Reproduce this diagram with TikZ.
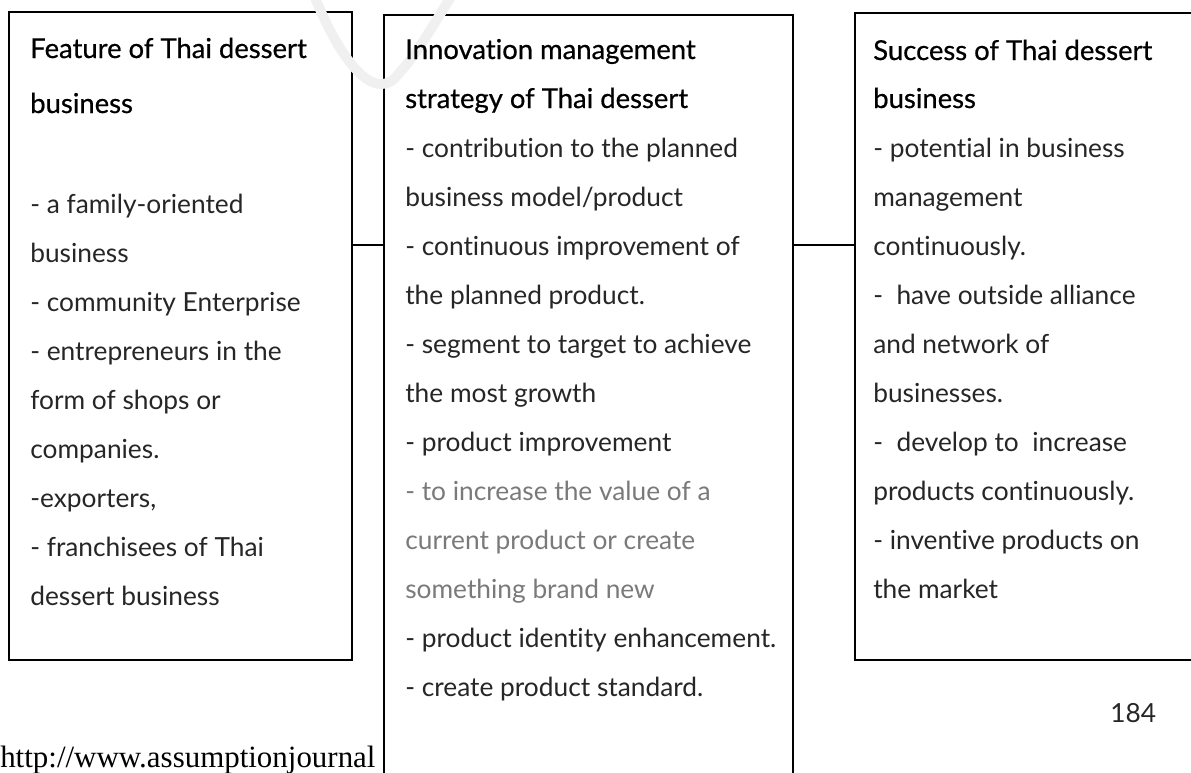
\documentclass[tikz,border=0pt]{standalone}
\usepackage{xcolor}
\usepackage{fontspec}
\setmainfont[Ligatures={NoCommon,NoContextual}]{Lato}
\newfontfamily\headfont[FakeBold=0.6,Ligatures={NoCommon,NoContextual}]{Lato}
\newfontfamily\urlfont{Liberation Serif}
\usetikzlibrary{fit}
\definecolor{bodytext}{HTML}{262626}
\definecolor{softtext}{HTML}{7A7A7A}
\definecolor{wmark}{HTML}{F0F0F0}

\begin{document}
\begin{tikzpicture}[x=0.025cm,y=-0.025cm,
    box/.style={draw, line width=1.4pt, fill=white, inner sep=0pt},
    body/.style={anchor=base west, inner sep=0pt, text=bodytext, font=\fontsize{18.7}{22}\selectfont},
    head/.style={anchor=base west, inner sep=0pt, text=black, font=\headfont\fontsize{19.5}{22}\selectfont}]
\useasboundingbox (0,0) rectangle (1191,772);
\clip (0,0) rectangle (1191,772);
\fill[white] (0,0) rectangle (1191,772);
\node[anchor=base west, inner sep=0pt, font=\urlfont\fontsize{22}{24}\selectfont] (url) at (0,767) {http://www.assumptionjournal};
\node[box, fit={(9,12) (352,660)}] (feat) {};
\node[box, fit={(384,15) (793,800)}] (innov) {};
\node[box, fit={(855,13) (1220,660)}] (succ) {};
\draw[wmark, line width=7pt] (314,-5) .. controls (340,60) and (372,100) .. (395,78) .. controls (415,55) .. (452,-5);
\coordinate (link) at (0,245);
\draw[line width=1pt] (feat.east |- link) -- (innov.west |- link);
\draw[line width=1pt] (innov.east |- link) -- (succ.west |- link);
\node[head] (feath1) at (30,58) {Feature of Thai dessert};
\node[head] (feath2) at (30,113) {business};
\foreach \t [count=\i] in {{- a family-oriented}, business, {- community Enterprise}, {- entrepreneurs in the}, {form of shops or}, companies., {-exporters,}, {- franchisees of Thai}, {dessert business}}
    \node[body] (feat\i) at (30,{164+49*\i}) {\t};
\node[head] (innovh1) at (405,59) {Innovation management};
\node[head] (innovh2) at (405,108) {strategy of Thai dessert};
\foreach \t [count=\i] in {{- contribution to the planned}, {business model/product}, {- continuous improvement of}, {the planned product.}, {- segment to target to achieve}, {the most growth}, {- product improvement}, {\textcolor{softtext}{- to increase the value of a}}, {\textcolor{softtext}{current product or create}}, {\textcolor{softtext}{something brand new}}, {- product identity enhancement.}, {- create product standard.}}
    \node[body] (innov\i) at (405,{108+49*\i}) {\t};
\node[head] (succh1) at (873,60) {Success of Thai dessert};
\node[head] (succh2) at (873,108) {business};
\foreach \t [count=\i] in {{- potential in business}, management, continuously., {-~~have outside alliance}, {and network of}, businesses., {-~~develop to~~increase}, {products continuously.}, {- inventive products on}, {the market}}
    \node[body] (succ\i) at (873,{108+49*\i}) {\t};
\node[body] (page) at (1110,722) {184};
\end{tikzpicture}
\end{document}
